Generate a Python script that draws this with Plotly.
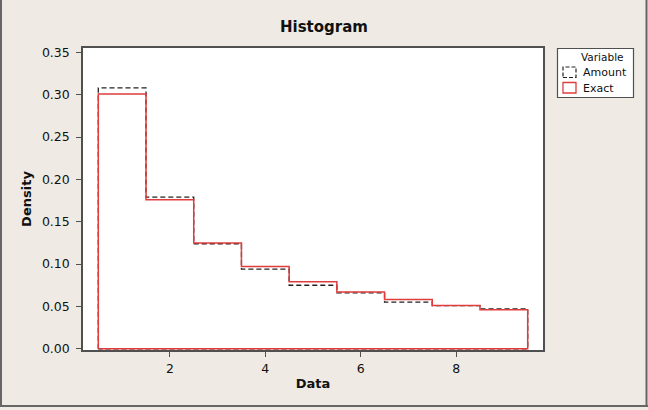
import plotly.graph_objects as go

# ---- data ----
bin_centers = [1, 2, 3, 4, 5, 6, 7, 8, 9]
bin_width = 1.0
amount_density = [0.308, 0.179, 0.124, 0.094, 0.075, 0.066, 0.055, 0.051, 0.047]
exact_density = [0.301, 0.176, 0.125, 0.097, 0.079, 0.067, 0.058, 0.051, 0.046]
x_ticks = [2, 4, 6, 8]
y_ticks = [0.00, 0.05, 0.10, 0.15, 0.20, 0.25, 0.30, 0.35]

FONT = "DejaVu Sans"
RED = "#e03c3c"
BG = "#efebe4"
FRAME = "#505050"

W, H = 648, 410
ML, MR, MT, MB = 83, 105, 48, 60
PW, PH = W - ML - MR, H - MT - MB


def px(x):
    return (x - ML) / PW


def py(y):
    return (H - MB - y) / PH


def outline(values):
    lefts = [c - bin_width / 2 for c in bin_centers]
    right = bin_centers[-1] + bin_width / 2
    xs = [lefts[0]] + lefts + [right, right, lefts[0]]
    ys = [0] + list(values) + [values[-1], 0, 0]
    return xs, ys


fig = go.Figure()
ax, ay = outline(amount_density)
fig.add_trace(go.Scatter(x=ax, y=ay, mode="lines", line_shape="hv",
                         line=dict(color="#222222", width=1.3, dash="5px,3px"),
                         name="Amount", showlegend=False, hoverinfo="skip"))
ex, ey = outline(exact_density)
fig.add_trace(go.Scatter(x=ex, y=ey, mode="lines", line_shape="hv",
                         line=dict(color=RED, width=1.5),
                         name="Exact", showlegend=False, hoverinfo="skip"))

shapes = []
# outer border (left, right, bottom)
shapes.append(dict(type="line", xref="paper", yref="paper", x0=px(1), x1=px(1), y0=py(-2), y1=py(406),
                   line=dict(color="#666666", width=2)))
shapes.append(dict(type="line", xref="paper", yref="paper", x0=px(646.5), x1=px(646.5), y0=py(-2), y1=py(406),
                   line=dict(color="#666666", width=2)))
shapes.append(dict(type="line", xref="paper", yref="paper", x0=px(0), x1=px(648), y0=py(406), y1=py(406),
                   line=dict(color="#666666", width=2)))
# legend box
shapes.append(dict(type="rect", xref="paper", yref="paper", x0=px(557.5), x1=px(633.5), y0=py(97.5), y1=py(48.5),
                   line=dict(color=FRAME, width=1.2), fillcolor="white", layer="below"))
shapes.append(dict(type="rect", xref="paper", yref="paper", x0=px(563), x1=px(576), y0=py(77.5), y1=py(67),
                   line=dict(color="#222222", width=1.2, dash="4px,2px")))
shapes.append(dict(type="rect", xref="paper", yref="paper", x0=px(563), x1=px(576), y0=py(93), y1=py(82.5),
                   line=dict(color=RED, width=1.3)))

annotations = [
    dict(text="Variable", xref="paper", yref="paper", x=px(602), y=py(57), showarrow=False,
         xanchor="center", yanchor="middle", font=dict(family=FONT, size=10.5, color="#111111")),
    dict(text="Amount", xref="paper", yref="paper", x=px(580.5), y=py(72.5), showarrow=False,
         xanchor="left", yanchor="middle", font=dict(family=FONT, size=11, color="#111111")),
    dict(text="Exact", xref="paper", yref="paper", x=px(580.5), y=py(88), showarrow=False,
         xanchor="left", yanchor="middle", font=dict(family=FONT, size=11, color="#111111")),
]

fig.update_layout(
    width=W, height=H,
    margin=dict(l=ML, r=MR, t=MT, b=MB),
    paper_bgcolor=BG, plot_bgcolor="white",
    font=dict(family=FONT, size=12, color="#111111"),
    title=dict(text="<b>Histogram</b>", x=0.5, xref="container", xanchor="center",
               y=1 - 27 / H, yref="container", yanchor="middle",
               font=dict(family=FONT, size=15, color="#111111")),
    showlegend=False,
    shapes=shapes,
    annotations=annotations,
    xaxis=dict(range=[0.179, 9.821], tickvals=x_ticks, ticktext=[str(t) for t in x_ticks],
               ticks="outside", ticklen=5, tickwidth=1, tickcolor=FRAME,
               showline=True, mirror=True, linecolor=FRAME, linewidth=1.5,
               showgrid=False, zeroline=False, ticklabelstandoff=1,
               title=dict(text="<b>Data</b>", font=dict(family=FONT, size=13), standoff=4),
               tickfont=dict(family=FONT, size=12.5)),
    yaxis=dict(range=[-0.0015, 0.3552], tickvals=y_ticks, ticktext=[f"{t:.2f}" for t in y_ticks],
               ticks="outside", ticklen=5, tickwidth=1, tickcolor=FRAME,
               showline=True, mirror=True, linecolor=FRAME, linewidth=1.5,
               showgrid=False, zeroline=False, ticklabelstandoff=4,
               title=dict(text="<b>Density</b>", font=dict(family=FONT, size=13), standoff=7),
               tickfont=dict(family=FONT, size=12.5)),
)

fig.write_html("out.html")
